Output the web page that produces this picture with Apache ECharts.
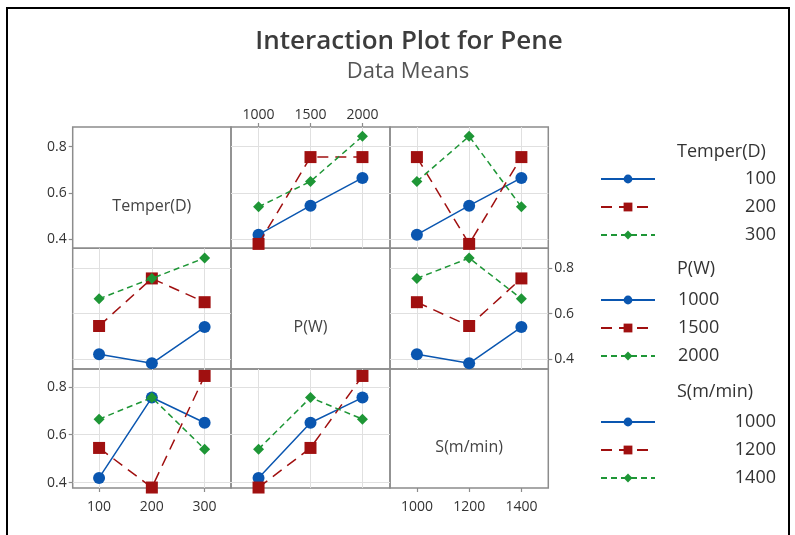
<!DOCTYPE html>
<html><head><meta charset="utf-8">
<script src="https://cdn.jsdelivr.net/npm/echarts@6/dist/echarts.min.js"></script>
<style>html,body{margin:0;padding:0;background:#fff}#c{width:795px;height:535px}</style>
</head><body><div id="c"></div>
<script>
// ---- data (L9 runs, response "Pene") ----
const tempLevels  = [100, 200, 300];
const powerLevels = [1000, 1500, 2000];
const speedLevels = [1000, 1200, 1400];
const runTemp  = [100, 100, 100, 200, 200, 200, 300, 300, 300];
const runPower = [1000, 1500, 2000, 1000, 1500, 2000, 1000, 1500, 2000];
const runSpeed = [1000, 1200, 1400, 1200, 1400, 1000, 1400, 1000, 1200];
const runPene  = [0.42, 0.545, 0.665, 0.38, 0.755, 0.755, 0.54, 0.65, 0.845];
const factorNames = ['Temper(D)', 'P(W)', 'S(m/min)'];
const yTicks = [0.4, 0.6, 0.8];
const tempTicks = [100, 200, 300];
const powerTicks = [1000, 1500, 2000];
const speedTicks = [1000, 1200, 1400];

// ---- layout / style ----
const factorRuns = [runTemp, runPower, runSpeed];
const factorLevels = [tempLevels, powerLevels, speedLevels];
const factorTicks = [tempTicks, powerTicks, speedTicks];
const colX = [[72.7, 231], [231, 390], [390, 548.3]];
const rowY = [[127, 248.3], [248.3, 369], [369, 488]];
const xRange = [[50, 350], [735, 2265], [897, 1503]];
const yRange = [[0.361, 0.885], [0.355, 0.888], [0.378, 0.874]];
const colors = ['#0a56b0', '#a01010', '#1e9636'];
const symbols = ['circle', 'rect', 'diamond'];
const symSizes = [12, 12, 11];
const dashes = ['solid', [11, 7], [6, 4]];
const legendTops = [170, 291, 413];
const legendTitleY = [152, 269, 392];
const FONT = 'Open Sans';

function mean(rf, rl, cf, cl) {
  let s = 0, n = 0;
  for (let i = 0; i < runPene.length; i++) {
    if (factorRuns[rf][i] === rl && factorRuns[cf][i] === cl) { s += runPene[i]; n++; }
  }
  return n ? s / n : null;
}

const grids = [], xAxes = [], yAxes = [], series = [], graphics = [];
for (let r = 0; r < 3; r++) {
  for (let c = 0; c < 3; c++) {
    const gi = r * 3 + c;
    const diag = r === c;
    grids.push({
      left: colX[c][0], top: rowY[r][0],
      width: colX[c][1] - colX[c][0], height: rowY[r][1] - rowY[r][0],
      show: true, borderColor: '#8c8c8c', borderWidth: 1.5, backgroundColor: 'transparent'
    });
    const xLab = (r === 0 && c === 1) || (r === 2 && (c === 0 || c === 2));
    xAxes.push({
      gridIndex: gi, type: 'value', min: xRange[c][0], max: xRange[c][1],
      position: r === 0 ? 'top' : 'bottom',
      axisLine: { show: false },
      axisTick: { show: xLab, customValues: factorTicks[c], length: 4, lineStyle: { color: '#8c8c8c', width: 1.2 } },
      axisLabel: { show: xLab, customValues: factorTicks[c], margin: r === 0 ? 5 : 12, fontFamily: FONT, fontSize: 14, color: '#333',
                   formatter: v => String(v) },
      splitLine: { show: !diag, lineStyle: { color: '#e0e0e0', width: 1 } }
    });
    const yLab = (c === 0 && (r === 0 || r === 2)) || (r === 1 && c === 2);
    yAxes.push({
      gridIndex: gi, type: 'value', min: yRange[r][0], max: yRange[r][1],
      position: c === 2 ? 'right' : 'left',
      axisLine: { show: false },
      axisTick: { show: yLab, customValues: yTicks, length: 4, lineStyle: { color: '#8c8c8c', width: 1.2 } },
      axisLabel: { show: yLab, customValues: yTicks, margin: 6, fontFamily: FONT, fontSize: 14, color: '#333',
                   formatter: v => v.toFixed(1) },
      splitLine: { show: !diag, lineStyle: { color: '#e0e0e0', width: 1 } }
    });
    if (diag) {
      graphics.push({
        type: 'text', x: (colX[c][0] + colX[c][1]) / 2, y: (rowY[r][0] + rowY[r][1]) / 2 + 19,
        style: { text: factorNames[r], font: '16px "' + FONT + '"', fill: '#444', align: 'center', verticalAlign: 'middle' }
      });
      continue;
    }
    factorLevels[r].forEach((lvl, k) => {
      series.push({
        name: 'f' + r + '_' + lvl, type: 'line', xAxisIndex: gi, yAxisIndex: gi,
        data: factorLevels[c].map(xv => [xv, mean(r, lvl, c, xv)]),
        symbol: symbols[k], symbolSize: symSizes[k], clip: false, silent: true, animation: false,
        itemStyle: { color: colors[k] },
        lineStyle: { color: colors[k], width: 1.5, type: dashes[k] },
        z: 3 + k
      });
    });
  }
}

const legendNames = factorLevels.map((lv, r) => lv.map(l => 'f' + r + '_' + l));
const legends = [0, 1, 2].map(r => ({
  orient: 'vertical', left: 600, top: legendTops[r], padding: 0, itemGap: 10,
  itemWidth: 54, itemHeight: 11, selectedMode: false,
  data: legendNames[r],
  formatter: n => '{v|' + n.split('_')[1] + '}',
  textStyle: {
    rich: {
      v: r === 1
        ? { width: 116, align: 'left', padding: [0, 0, 0, 18], fontFamily: FONT, fontSize: 18, color: '#333', lineHeight: 16 }
        : { width: 116, align: 'right', fontFamily: FONT, fontSize: 18, color: '#333', lineHeight: 16 }
    }
  }
}));

factorNames.forEach((nm, r) => {
  graphics.push({
    type: 'text', x: 677, y: legendTitleY[r],
    style: { text: nm, font: '18px "' + FONT + '"', fill: '#333', align: 'left', verticalAlign: 'middle' }
  });
});
graphics.push({
  type: 'text', x: 409, y: 42,
  style: { text: 'Interaction Plot for Pene', font: '600 26px "' + FONT + '"', fill: '#3c3c3c', align: 'center', verticalAlign: 'middle' }
});
graphics.push({
  type: 'text', x: 408, y: 72,
  style: { text: 'Data Means', font: '22px "' + FONT + '"', fill: '#555', align: 'center', verticalAlign: 'middle' }
});
graphics.push({
  type: 'rect', shape: { x: 7, y: 8, width: 782, height: 600 },
  style: { fill: 'none', stroke: '#000', lineWidth: 2 }, z: 100
});

const chart = echarts.init(document.getElementById('c'), null, { renderer: 'canvas' });
chart.setOption({
  animation: false,
  backgroundColor: '#fff',
  grid: grids, xAxis: xAxes, yAxis: yAxes, series: series,
  legend: legends, graphic: graphics
});
</script></body></html>
